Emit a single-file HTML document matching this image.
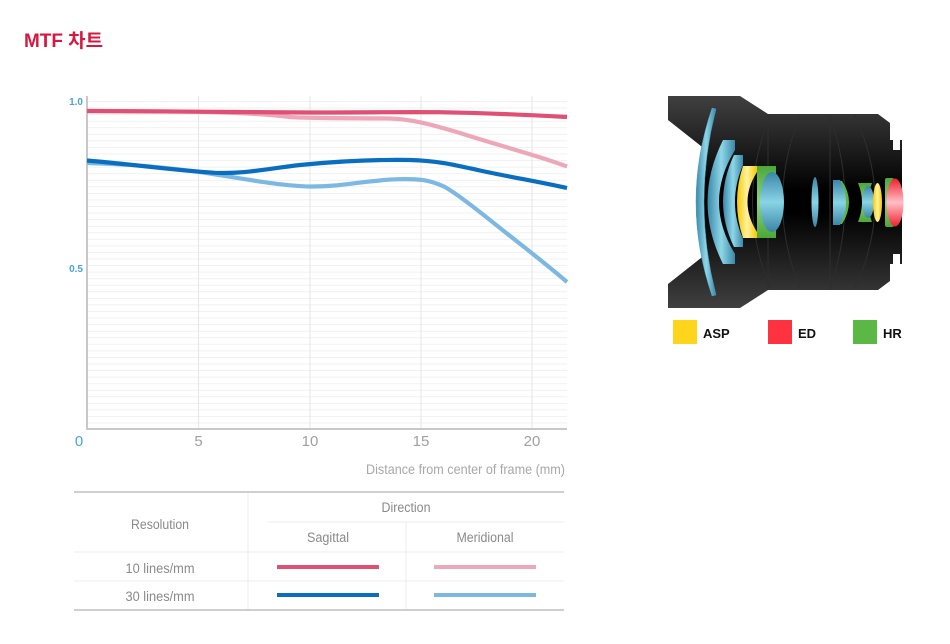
<!DOCTYPE html>
<html><head><meta charset="utf-8">
<style>
html,body{margin:0;padding:0;background:#fff;width:950px;height:644px;overflow:hidden}
svg{display:block}
text{font-family:"Liberation Sans","Noto Sans CJK KR",sans-serif}
</style></head>
<body>
<svg width="950" height="644" viewBox="0 0 950 644" xmlns="http://www.w3.org/2000/svg">
<defs>
  <linearGradient id="body" x1="0" y1="0" x2="0" y2="1">
    <stop offset="0" stop-color="#404040"/>
    <stop offset="0.45" stop-color="#000"/>
    <stop offset="0.55" stop-color="#000"/>
    <stop offset="1" stop-color="#404040"/>
  </linearGradient>
  <linearGradient id="blu" x1="0" y1="0" x2="1" y2="0">
    <stop offset="0" stop-color="#3a88a8"/>
    <stop offset="0.5" stop-color="#8fd6e8"/>
    <stop offset="1" stop-color="#3a88a8"/>
  </linearGradient>
  <linearGradient id="bluv" x1="0" y1="0" x2="0" y2="1">
    <stop offset="0" stop-color="#3a86a6"/>
    <stop offset="0.5" stop-color="#8ad4e6"/>
    <stop offset="1" stop-color="#3a86a6"/>
  </linearGradient>
  <linearGradient id="yel" x1="0" y1="0" x2="1" y2="0">
    <stop offset="0" stop-color="#f5c800"/>
    <stop offset="0.5" stop-color="#fff2a0"/>
    <stop offset="1" stop-color="#f5c800"/>
  </linearGradient>
  <linearGradient id="grn" x1="0" y1="0" x2="0" y2="1">
    <stop offset="0" stop-color="#4aa838"/>
    <stop offset="0.5" stop-color="#8fd47a"/>
    <stop offset="1" stop-color="#4aa838"/>
  </linearGradient>
  <linearGradient id="red" x1="0" y1="0" x2="0" y2="1">
    <stop offset="0" stop-color="#f0202e"/>
    <stop offset="0.5" stop-color="#ffc0c8"/>
    <stop offset="1" stop-color="#f0202e"/>
  </linearGradient>
</defs>

<text x="24" y="47" font-size="19" font-weight="bold" fill="#d7173f" textLength="79" lengthAdjust="spacingAndGlyphs">MTF 차트</text>

<path stroke="#f1f1f1" stroke-width="1" fill="none" d="M87,101.5H567M87,108H567M87,114.6H567M87,121.2H567M87,127.7H567M87,134.3H567M87,140.9H567M87,147.4H567M87,154H567M87,160.5H567M87,167.1H567M87,173.7H567M87,180.2H567M87,186.8H567M87,193.4H567M87,199.9H567M87,206.5H567M87,213H567M87,219.6H567M87,226.2H567M87,232.7H567M87,239.3H567M87,245.9H567M87,252.4H567M87,259H567M87,265.5H567M87,272.1H567M87,278.7H567M87,285.2H567M87,291.8H567M87,298.4H567M87,304.9H567M87,311.5H567M87,318H567M87,324.6H567M87,331.2H567M87,337.7H567M87,344.3H567M87,350.9H567M87,357.4H567M87,364H567M87,370.5H567M87,377.1H567M87,383.7H567M87,390.2H567M87,396.8H567M87,403.4H567M87,409.9H567M87,416.5H567M87,423H567"/>
<path stroke="#e8e8e8" stroke-width="1.2" fill="none" d="M198.5,96V429M310,96V429M421,96V429M532,96V429"/>
<line x1="87" y1="96" x2="87" y2="430" stroke="#c8c8c8" stroke-width="2"/>
<line x1="86" y1="429" x2="567" y2="429" stroke="#c8c8c8" stroke-width="2"/>

<g fill="none" stroke-width="4.2">
  <path stroke="#eea7b9" d="M87,111 C190,111 250,112 290,117 C310,118.5 360,118 390,118.5 C410,119 430,124 460,133 C500,146 540,156 567,166.5"/>
  <path stroke="#e05075" d="M87,111 C150,111 250,112.5 310,112.5 C370,112.5 400,111.8 440,112.2 C490,113 530,115 567,117"/>
  <path stroke="#7cb8e2" d="M87,163 C130,164 160,167 200,172 C240,178 280,186 310,186.5 C340,187 360,181 395,179.3 C420,178.5 430,180 445,187 C460,196 480,212 500,228 C520,244 545,263 567,282"/>
  <path stroke="#0a6ec0" d="M87,160.5 C130,164 170,170 215,172.8 C245,174 265,169 300,165 C340,161 380,159.5 410,160 C440,161 455,165 480,170.5 C510,177 540,182 567,188"/>
</g>

<text x="83" y="105" font-size="10" font-weight="bold" fill="#4aa3dc" text-anchor="end">1.0</text>
<text x="83" y="272" font-size="10" font-weight="bold" fill="#4aa3dc" text-anchor="end">0.5</text>
<text x="79" y="446" font-size="15" fill="#4aa3dc" text-anchor="middle">0</text>
<g font-size="15" fill="#a0a0a0" text-anchor="middle">
  <text x="198.5" y="446">5</text>
  <text x="310" y="446">10</text>
  <text x="421" y="446">15</text>
  <text x="532" y="446">20</text>
</g>
<text x="366" y="474" font-size="14" fill="#a8a8a8" textLength="199" lengthAdjust="spacingAndGlyphs">Distance from center of frame (mm)</text>

<line x1="74" y1="492" x2="564" y2="492" stroke="#cfcfcf" stroke-width="2"/>
<line x1="74" y1="610" x2="564" y2="610" stroke="#cfcfcf" stroke-width="2"/>
<path stroke="#ececec" stroke-width="1" fill="none" d="M248,493V609M268,522H564M406,522V609M74,552H564M74,581H564"/>
<g font-size="13.5" fill="#8a8a8a" text-anchor="middle">
  <text x="160" y="529" textLength="58" lengthAdjust="spacingAndGlyphs">Resolution</text>
  <text x="406" y="512" textLength="49" lengthAdjust="spacingAndGlyphs">Direction</text>
  <text x="328" y="542" textLength="42" lengthAdjust="spacingAndGlyphs">Sagittal</text>
  <text x="485" y="542" textLength="57" lengthAdjust="spacingAndGlyphs">Meridional</text>
  <text x="160" y="573" textLength="69" lengthAdjust="spacingAndGlyphs">10 lines/mm</text>
  <text x="160" y="601" textLength="69" lengthAdjust="spacingAndGlyphs">30 lines/mm</text>
</g>
<g stroke-width="4">
  <line x1="277" y1="567" x2="379" y2="567" stroke="#e05075"/>
  <line x1="434" y1="567" x2="536" y2="567" stroke="#eea7b9"/>
  <line x1="277" y1="595" x2="379" y2="595" stroke="#0a6ec0"/>
  <line x1="434" y1="595" x2="536" y2="595" stroke="#7cb8e2"/>
</g>

<path fill="url(#body)" d="M668,96 L740,96 L768,114 L878,114 L890,123 L890,140 L893,140 L893,150 L900,150 L900,140 L902,140 L902,264 L900,264 L900,254 L893,254 L893,264 L890,264 L890,281 L878,290 L768,290 L740,308 L668,308 L668,284 L706,254 Q690,202 706,150 L668,120 Z"/>
<path fill="none" stroke="#2e2e2e" stroke-width="1" d="M770,116 Q735,202 770,288M800,116 Q765,202 800,288M830,116 Q860,202 830,288M855,116 Q895,202 855,288M768,114 L768,290M830,114 L830,290"/>
<path fill="url(#blu)" stroke="#4a9ab8" stroke-width="0.5" d="M712,108 L716,109 Q692,202 716,295 L712,296 Q680,202 712,108 Z"/>
<path fill="url(#blu)" d="M723,140 L735,140 L735,150 Q703,202 735,254 L735,264 L723,264 Q692,202 723,140 Z"/>
<path fill="url(#blu)" d="M734,155 L743,155 L743,165 Q727,202 743,239 L743,247 L734,247 Q712,202 734,155 Z"/>
<path fill="url(#yel)" d="M743,166 L757,166 L757,172 Q738,202 757,232 L757,238 L743,238 Q731,202 743,166 Z"/>
<rect x="757" y="166" width="19" height="72" fill="url(#grn)"/>
<ellipse cx="772" cy="202" rx="12" ry="30" fill="url(#bluv)"/>
<ellipse cx="815" cy="202" rx="3.5" ry="25" fill="url(#bluv)"/>
<path fill="#5cb840" d="M838,181 Q853,202 838,224 L842,224 Q856,202 842,181 Z"/>
<path fill="url(#bluv)" d="M833,180 L840,180 Q852,202 840,225 L833,225 Z"/>
<path fill="url(#grn)" d="M858,183 L872,183 Q864,202 872,222 L858,222 Q866,202 858,183 Z"/>
<ellipse cx="868" cy="202" rx="6" ry="16" fill="url(#bluv)"/>
<ellipse cx="877.5" cy="202.5" rx="4.5" ry="19.5" fill="url(#yel)"/>
<rect x="885" y="178" width="9" height="49" rx="2" fill="url(#grn)"/>
<ellipse cx="895" cy="202.5" rx="8.5" ry="24" fill="url(#red)"/>

<rect x="673" y="320" width="24" height="24" fill="#ffd51c"/>
<text x="703" y="338" font-size="13" font-weight="bold" fill="#111">ASP</text>
<rect x="768" y="320" width="24" height="24" fill="#ff3340"/>
<text x="798" y="338" font-size="13" font-weight="bold" fill="#111">ED</text>
<rect x="853" y="320" width="24" height="24" fill="#5cb844"/>
<text x="883" y="338" font-size="13" font-weight="bold" fill="#111">HR</text>
</svg>
</body></html>
